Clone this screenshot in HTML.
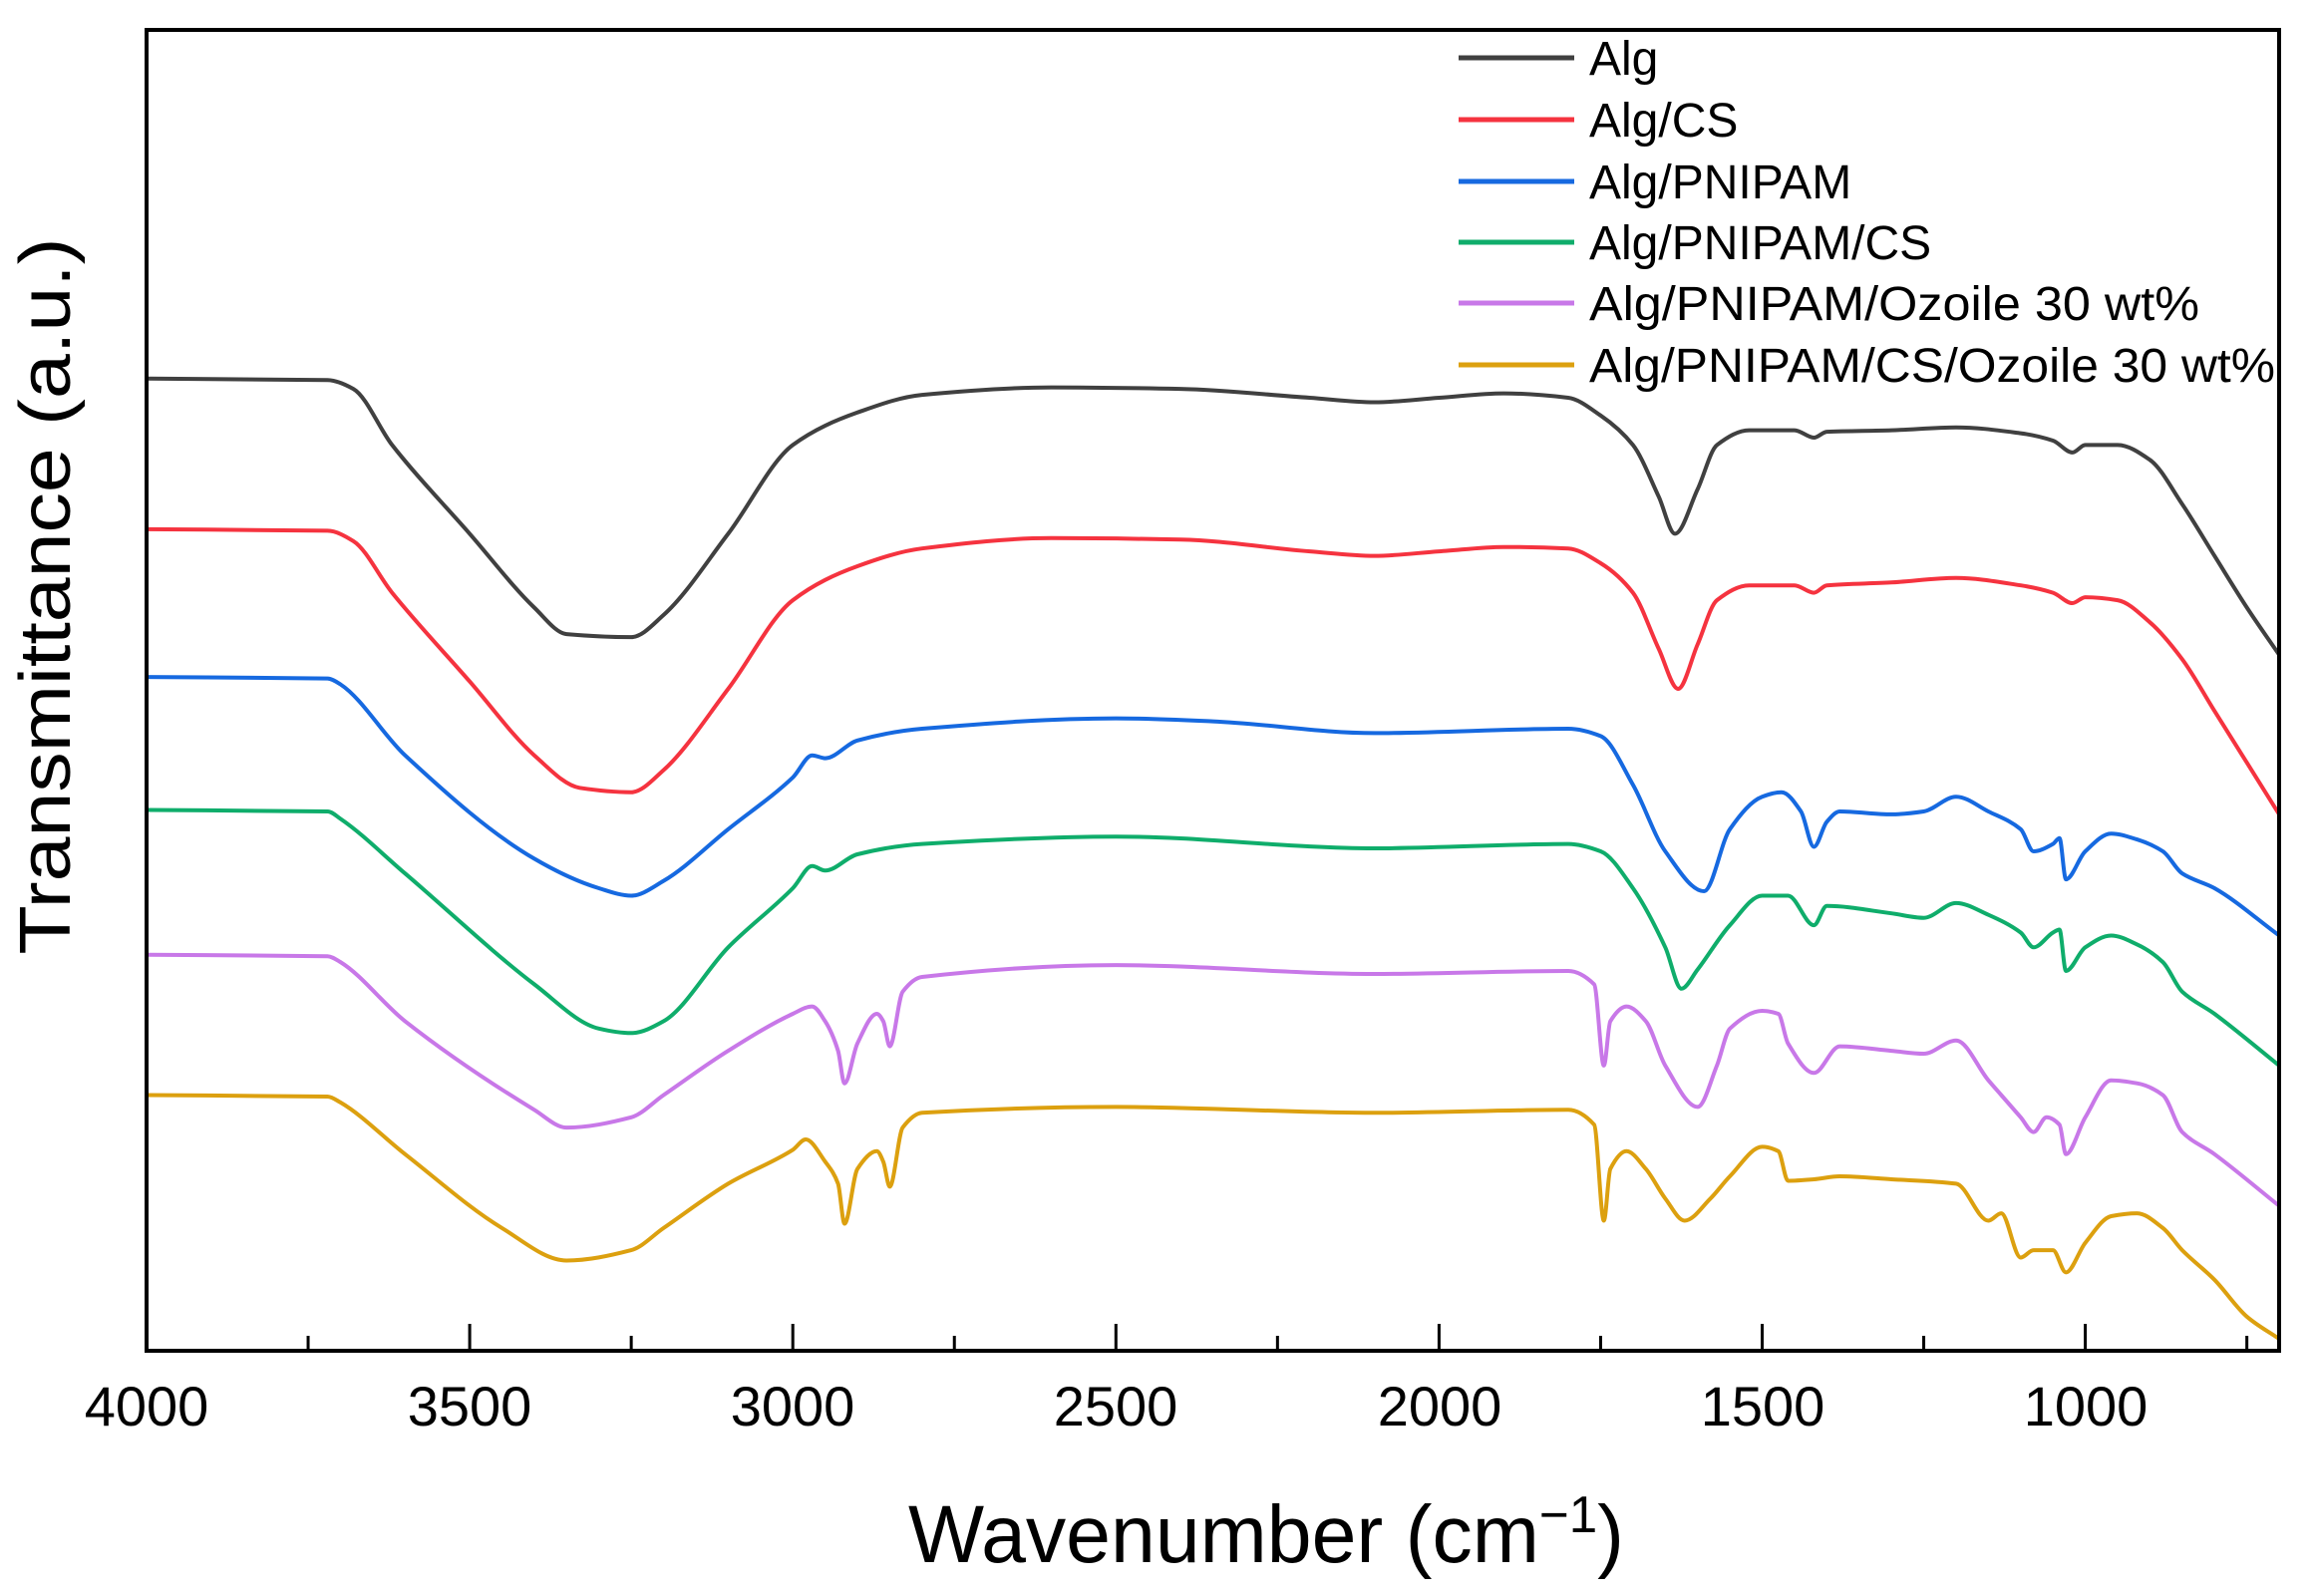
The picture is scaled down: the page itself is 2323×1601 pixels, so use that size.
<!DOCTYPE html>
<html><head><meta charset="utf-8"><style>
html,body{margin:0;padding:0;background:#fff;}
svg{display:block;font-family:"Liberation Sans",Arial,sans-serif;}
</style></head><body>
<svg id="s" width="2323" height="1601" viewBox="0 0 2323 1601" xmlns="http://www.w3.org/2000/svg">
<rect width="2323" height="1601" fill="#fff"/>
<g id="curves" fill="none" stroke-width="4" stroke-linejoin="round"></g>
<rect x="147" y="30" width="2139" height="1325" fill="none" stroke="#000" stroke-width="4"/>
<g id="ticks" stroke="#000" stroke-width="3"></g>
<g font-size="56" text-anchor="middle" fill="#000">
<text x="147" y="1430">4000</text><text x="471" y="1430">3500</text><text x="795" y="1430">3000</text>
<text x="1119" y="1430">2500</text><text x="1444" y="1430">2000</text><text x="1768" y="1430">1500</text>
<text x="2092" y="1430">1000</text>
</g>
<text x="1270" y="1567" font-size="82" text-anchor="middle" textLength="718" lengthAdjust="spacingAndGlyphs">Wavenumber (cm<tspan font-size="52" dy="-30">−1</tspan><tspan dy="30">)</tspan></text>
<text transform="translate(70,598) rotate(-90)" font-size="72" text-anchor="middle" textLength="719" lengthAdjust="spacingAndGlyphs">Transmittance (a.u.)</text>
<g font-size="48" fill="#000">
<line x1="1463" y1="58" x2="1579" y2="58" stroke="#404040" stroke-width="5"/><text x="1594" y="75">Alg</text>
<line x1="1463" y1="120" x2="1579" y2="120" stroke="#f5333f" stroke-width="5"/><text x="1594" y="137">Alg/CS</text>
<line x1="1463" y1="182" x2="1579" y2="182" stroke="#1669e0" stroke-width="5"/><text x="1594" y="199">Alg/PNIPAM</text>
<line x1="1463" y1="243" x2="1579" y2="243" stroke="#0fad6b" stroke-width="5"/><text x="1594" y="260">Alg/PNIPAM/CS</text>
<line x1="1463" y1="304" x2="1579" y2="304" stroke="#c878e8" stroke-width="5"/><text x="1594" y="321" textLength="612" lengthAdjust="spacingAndGlyphs">Alg/PNIPAM/Ozoile 30 wt%</text>
<line x1="1463" y1="366" x2="1579" y2="366" stroke="#dca00f" stroke-width="5"/><text x="1594" y="383" textLength="688" lengthAdjust="spacingAndGlyphs">Alg/PNIPAM/CS/Ozoile 30 wt%</text>
</g>
</svg>
<script>
var X=function(w){return 147+(4000-w)*0.6482;};
var Y=function(p){return 30+(p-19)*1.482;};
var t=document.getElementById('ticks'),h='';
for(var w=4000;w>=700;w-=250){var x=X(w),L=(w%500==0)?27:15;h+='<line x1="'+x+'" y1="1355" x2="'+x+'" y2="'+(1355-L)+'"/>';}
t.innerHTML=h;
var D=[
['#404040',[[4000,255],[3720,256],[3680,262],[3620,300],[3500,360],[3400,410],[3350,428],[3250,430],[3200,415],[3100,360],[3000,300],[2900,278],[2800,266],[2600,261],[2400,262],[2200,268],[2100,271],[2000,268],[1900,265],[1800,268],[1750,280],[1700,300],[1660,335],[1635,360],[1600,330],[1570,300],[1520,290],[1450,290],[1420,295],[1400,291],[1300,290],[1200,288],[1100,292],[1050,297],[1020,305],[1000,300],[950,300],[900,310],[850,340],[800,375],[750,410],[700,442]]],
['#f5333f',[[4000,357],[3720,358],[3680,365],[3620,400],[3500,460],[3400,510],[3330,532],[3250,535],[3200,520],[3100,465],[3000,405],[2900,382],[2800,370],[2600,363],[2400,364],[2200,372],[2100,375],[2000,372],[1900,369],[1800,370],[1750,380],[1700,400],[1660,438],[1630,465],[1600,435],[1570,405],[1520,395],[1450,395],[1420,400],[1400,395],[1300,393],[1200,390],[1100,395],[1050,400],[1020,407],[1000,403],[950,405],[900,420],[850,445],[800,480],[750,515],[700,550]]],
['#1669e0',[[4000,457],[3720,458],[3700,462],[3600,510],[3400,580],[3300,600],[3250,605],[3200,595],[3100,560],[3000,525],[2970,510],[2950,512],[2900,500],[2800,492],[2500,485],[2350,487],[2100,495],[1800,492],[1750,497],[1700,530],[1650,575],[1590,602],[1550,560],[1500,538],[1470,535],[1440,548],[1420,572],[1400,555],[1380,548],[1300,550],[1250,548],[1200,538],[1150,548],[1100,560],[1080,575],[1050,570],[1040,566],[1030,594],[1000,575],[960,563],[920,567],[880,575],[850,590],[800,600],[700,632]]],
['#0fad6b',[[4000,547],[3720,548],[3700,553],[3600,590],[3400,665],[3300,695],[3250,698],[3200,690],[3100,640],[3000,600],[2970,585],[2950,588],[2900,577],[2800,570],[2500,565],[2100,573],[1800,570],[1750,575],[1700,600],[1650,640],[1625,668],[1600,655],[1550,625],[1500,605],[1460,605],[1420,625],[1400,612],[1300,617],[1250,620],[1200,610],[1150,618],[1100,630],[1080,640],[1050,630],[1040,628],[1030,656],[1000,640],[960,632],[920,638],[880,650],[850,670],[800,685],[700,720]]],
['#c878e8',[[4000,645],[3720,646],[3700,650],[3600,690],[3400,750],[3350,762],[3250,755],[3200,740],[3100,710],[3000,685],[2970,680],[2950,690],[2930,710],[2920,732],[2900,705],[2870,685],[2860,690],[2850,707],[2830,670],[2800,660],[2500,652],[2100,658],[1800,656],[1760,665],[1745,720],[1735,690],[1710,680],[1680,690],[1650,720],[1600,748],[1570,720],[1550,695],[1500,683],[1475,685],[1460,705],[1420,725],[1380,707],[1300,710],[1250,712],[1200,703],[1150,730],[1130,740],[1100,755],[1080,765],[1060,755],[1040,760],[1030,780],[1000,755],[960,730],[920,732],[880,740],[850,765],[800,780],[700,815]]],
['#dca00f',[[4000,740],[3720,741],[3700,745],[3600,780],[3450,830],[3350,852],[3250,845],[3200,830],[3100,800],[3000,777],[2980,770],[2950,785],[2930,800],[2920,827],[2900,790],[2870,778],[2860,785],[2850,802],[2830,762],[2800,752],[2500,748],[2100,752],[1800,750],[1760,760],[1745,825],[1735,790],[1710,778],[1680,790],[1650,810],[1620,825],[1580,810],[1550,795],[1500,775],[1475,778],[1460,798],[1420,797],[1380,795],[1300,797],[1200,800],[1150,825],[1130,820],[1100,850],[1080,845],[1050,845],[1030,860],[1000,840],[960,822],[920,820],[880,830],[850,845],[800,865],[750,890],[700,905]]]
];
var g=document.getElementById('curves'),s='';
D.forEach(function(c){
 var P=c[1].map(function(p){return [X(p[0]),Y(p[1])];}),n=P.length,dl=[],m=[];
 for(var i=0;i<n-1;i++)dl.push((P[i+1][1]-P[i][1])/(P[i+1][0]-P[i][0]));
 m[0]=dl[0];m[n-1]=dl[n-2];
 for(i=1;i<n-1;i++){m[i]=(dl[i-1]*dl[i]<=0)?0:(2*dl[i-1]*dl[i]/(dl[i-1]+dl[i]));}
 var d='M'+P[0][0].toFixed(1)+','+P[0][1].toFixed(1);
 for(i=0;i<n-1;i++){
  var hx=(P[i+1][0]-P[i][0])/3;
  d+='C'+(P[i][0]+hx).toFixed(1)+','+(P[i][1]+m[i]*hx).toFixed(1)+' '+(P[i+1][0]-hx).toFixed(1)+','+(P[i+1][1]-m[i+1]*hx).toFixed(1)+' '+P[i+1][0].toFixed(1)+','+P[i+1][1].toFixed(1);
 }
 s+='<path d="'+d+'" stroke="'+c[0]+'"/>';
});
g.innerHTML=s;
</script>
</body></html>
